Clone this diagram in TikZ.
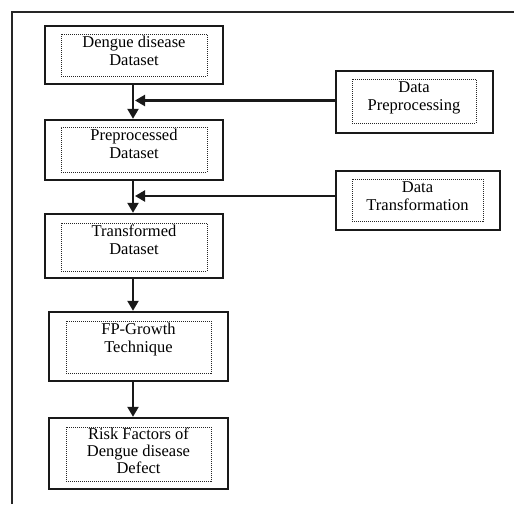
\documentclass[tikz,border=0pt]{standalone}
\usepackage{fontspec}
\setmainfont{Liberation Serif}
\usetikzlibrary{arrows.meta}
\tikzset{
  obox/.style={draw=black!90, line width=2.4pt, rectangle, inner sep=0pt},
  ibox/.style={draw=black!85, line width=0.9pt, dash pattern=on 1pt off 1pt, rectangle, inner sep=0pt},
  txt/.style={anchor=north, inner sep=0pt, align=center, yshift=-0.6pt, font=\fontsize{16.5}{18.5}\selectfont},
  arr/.style={draw=black!90, line width=2.2pt, -{Triangle[length=10pt,width=11pt]}},
}
\begin{document}
\begin{tikzpicture}[x=1pt,y=-1pt]
\useasboundingbox (0,0) rectangle (514,504);
% frame
\draw[black!85, line width=2pt] (11.5,504) -- (11.5,11.5) -- (514,11.5);
% main boxes
\node[obox, minimum width=178, minimum height=58] (b1) at (134,55) {};
\node[ibox, minimum width=146, minimum height=42] (i1) at (134,55) {};
\node[txt] (t1) at (i1.north) {\strut Dengue disease\\Dataset};

\node[obox, minimum width=178, minimum height=60] (b2) at (134,150) {};
\node[ibox, minimum width=146, minimum height=45] (i2) at (134,149.5) {};
\node[txt] (t2) at (i2.north) {\strut Preprocessed\\Dataset};

\node[obox, minimum width=178, minimum height=64] (b3) at (134,246) {};
\node[ibox, minimum width=146, minimum height=48] (i3) at (134,247) {};
\node[txt] (t3) at (i3.north) {\strut Transformed\\Dataset};

\node[obox, minimum width=179, minimum height=69] (b4) at (138.5,346.5) {};
\node[ibox, minimum width=145, minimum height=52] (i4) at (138.5,347) {};
\node[txt] (t4) at (i4.north) {\strut FP-Growth\\Technique};

\node[obox, minimum width=179, minimum height=71] (b5) at (138.5,453.5) {};
\node[ibox, minimum width=145, minimum height=54] (i5) at (138.5,454) {};
\node[txt, font=\fontsize{16.5}{17}\selectfont] (t5) at (i5.north) {\strut Risk Factors of\\Dengue disease\\Defect};

% side boxes
\node[obox, minimum width=157, minimum height=62] (dp) at (414.5,102) {};
\node[ibox, minimum width=124, minimum height=44] (idp) at (414,101) {};
\node[txt] (tdp) at (idp.north) {\strut Data\\Preprocessing};

\node[obox, minimum width=164, minimum height=59] (dt) at (418,200.5) {};
\node[ibox, minimum width=131, minimum height=42] (idt) at (417.5,200) {};
\node[txt] (tdt) at (idt.north) {\strut Data\\Transformation};

% vertical arrows
\draw[arr] ([xshift=-1pt]b1.south) -- ([xshift=-1pt]b1.south |- b2.north);
\draw[arr] ([xshift=-1pt]b2.south) -- ([xshift=-1pt]b2.south |- b3.north);
\draw[arr] ([xshift=-1pt]b3.south) -- ([xshift=-1pt]b3.south |- b4.north);
\draw[arr] ([xshift=-1pt]b3.south |- b4.south) -- ([xshift=-1pt]b3.south |- b5.north);
% horizontal arrows
\draw[arr] ([yshift=1.5pt]dp.west) -- ([xshift=1pt,yshift=1.5pt]b1.south |- dp.west);
\draw[arr] ([yshift=4.5pt]dt.west) -- ([xshift=1pt,yshift=4.5pt]b2.south |- dt.west);
\end{tikzpicture}
\end{document}
